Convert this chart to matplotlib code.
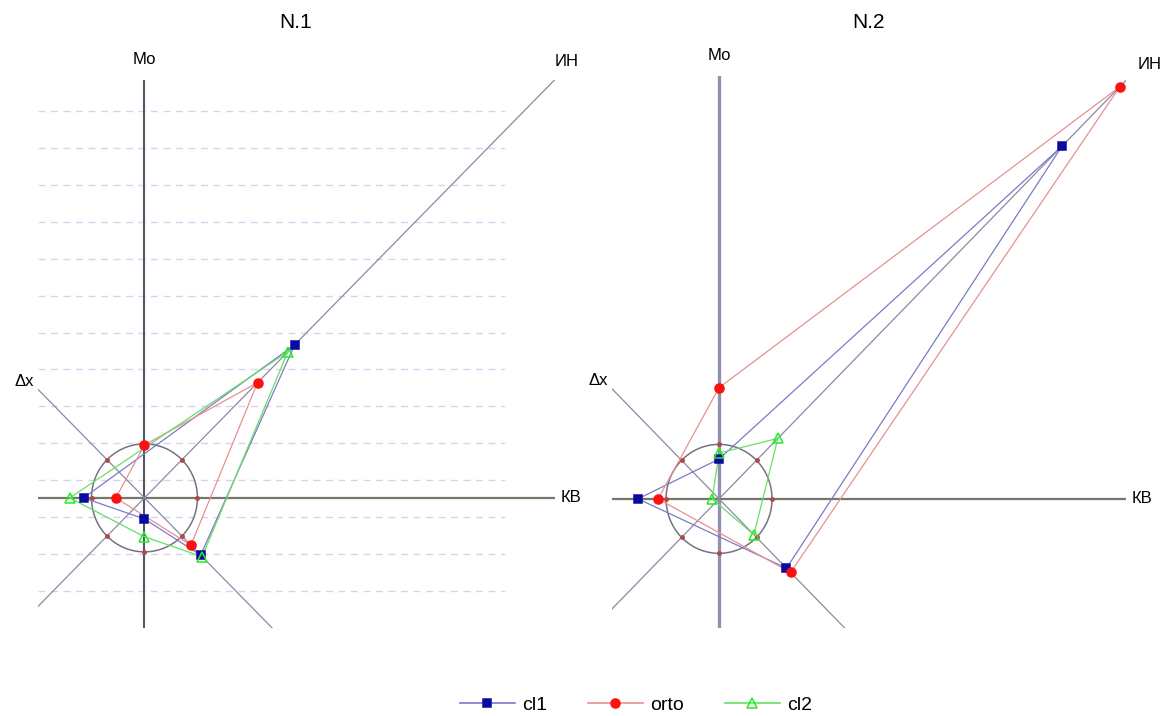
import numpy as np
import matplotlib
matplotlib.use("Agg")
import matplotlib.pyplot as plt
from matplotlib.lines import Line2D

plt.rcParams['font.family'] = ['Liberation Sans', 'DejaVu Sans']

# radar axes: label and direction (degrees)
axis_names  = ['Мо', 'ИН', 'КВ', 'Δx']
axis_angles = [90, 45, 0, 135]

# values along each axis (circle = 1), sign puts point on opposite ray
n1_cl1  = [-0.39, 4.01, -1.15, -1.50]
n1_orto = [ 0.98, 3.02, -0.54, -1.24]
n1_cl2  = [-0.72, 3.83, -1.41, -1.54]

n2_cl1  = [ 0.73, 9.15, -1.53, -1.80]
n2_orto = [ 2.04, 10.7, -1.15, -1.91]
n2_cl2  = [ 0.84, 1.57, -0.13, -0.93]

panel_titles = ['N.1', 'N.2']
series_names = ['cl1', 'orto', 'cl2']

styles = {
    'cl1':  dict(lc='#7a7ac8', mc='#0a0aa0', mk='s', ms=5.5, mfc='#0a0aa0'),
    'orto': dict(lc='#e89090', mc='#ff1010', mk='o', ms=6.5, mfc='#ff1010'),
    'cl2':  dict(lc='#66e066', mc='#22ee22', mk='^', ms=7,   mfc='none'),
}

W, H = 1173, 716
fig = plt.figure(figsize=(W / 100, H / 100), dpi=100)


def px_axes(left, top, right, bottom):
    return fig.add_axes([left / W, 1 - bottom / H, (right - left) / W, (bottom - top) / H])


def to_xy(vals):
    a = np.radians(axis_angles)
    v = np.asarray(vals)
    x, y = v * np.cos(a), v * np.sin(a)
    order = np.argsort(np.mod(np.arctan2(y, x), 2 * np.pi))
    order = np.append(order, order[0])
    return x[order], y[order]


def draw_panel(ax, data, xlim, ylim, mo_lw, mo_col, grid, in_off):
    ax.set_xlim(*xlim)
    ax.set_ylim(*ylim)
    ax.axis('off')

    if grid:
        for gy in np.arange(-1.72, 7.4, 0.683):
            ax.plot([xlim[0], 6.8], [gy, gy], color='#d4d4f2', lw=1,
                    dashes=(5, 4), zorder=0)

    ax.axvline(0, color=mo_col, lw=mo_lw, zorder=1)
    ax.axhline(0, color='#76766a', lw=1.6, zorder=1)
    ax.axline((0, 0), slope=1, color='#8a8aa4', lw=0.9, zorder=1)
    ax.axline((0, 0), slope=-1, color='#8a8aa4', lw=0.9, zorder=1)

    t = np.linspace(0, 2 * np.pi, 200)
    ax.plot(np.cos(t), np.sin(t), color='#747480', lw=1.1, zorder=2)
    ta = np.radians(np.arange(0, 360, 45))
    ax.plot(np.cos(ta), np.sin(ta), ls='none', marker='o', ms=2.5,
            color='#b04848', zorder=3)

    for name in series_names:
        s = styles[name]
        x, y = to_xy(data[name])
        ax.plot(x, y, color=s['lc'], lw=0.9, zorder=4)
        ax.plot(x[:-1], y[:-1], ls='none', marker=s['mk'], ms=s['ms'],
                mfc=s['mfc'], mec=s['mc'], mew=1.1, zorder=5, clip_on=False)

    tx = dict(fontsize=12, clip_on=False, textcoords='offset pixels')
    ax.annotate('Мо', xy=(0, ylim[1]), xytext=(0, 20), ha='center', va='center', **tx)
    c = min(xlim[1], ylim[1])
    ax.annotate('ИН', xy=(c, c), xytext=in_off, ha='center', va='center', **tx)
    ax.annotate('КВ', xy=(xlim[1], 0), xytext=(6, 0), ha='left', va='center', **tx)
    ax.annotate('Δx', xy=(xlim[0], -xlim[0]), xytext=(-4, 8), ha='right', va='center', **tx)


ax1 = px_axes(38, 80, 555, 628)
draw_panel(ax1, {'cl1': n1_cl1, 'orto': n1_orto, 'cl2': n1_cl2},
           (-2.01, 7.75), (-2.41, 7.74), 1.5, '#55556c', True, (12, 18))

ax2 = px_axes(612, 76, 1126, 628)
draw_panel(ax2, {'cl1': n2_cl1, 'orto': n2_orto, 'cl2': n2_cl2},
           (-2.02, 7.68), (-2.37, 7.76), 2.4, '#9090b0', False, (24, 16))

fig.text(296 / W, 1 - 22 / H, panel_titles[0], fontsize=15, ha='center', va='center')
fig.text(869 / W, 1 - 22 / H, panel_titles[1], fontsize=15, ha='center', va='center')

handles = []
for name in series_names:
    s = styles[name]
    handles.append(Line2D([], [], color=s['lc'], lw=1.2, marker=s['mk'], ms=s['ms'],
                          mfc=s['mfc'], mec=s['mc'], mew=1.1, label=name))
fig.legend(handles=handles, loc='center', bbox_to_anchor=(0.542, 1 - 705 / H),
           ncol=3, frameon=False, fontsize=14, handlelength=2.85,
           columnspacing=2.1, handletextpad=0.35)

fig.savefig('out.png', dpi=100)
